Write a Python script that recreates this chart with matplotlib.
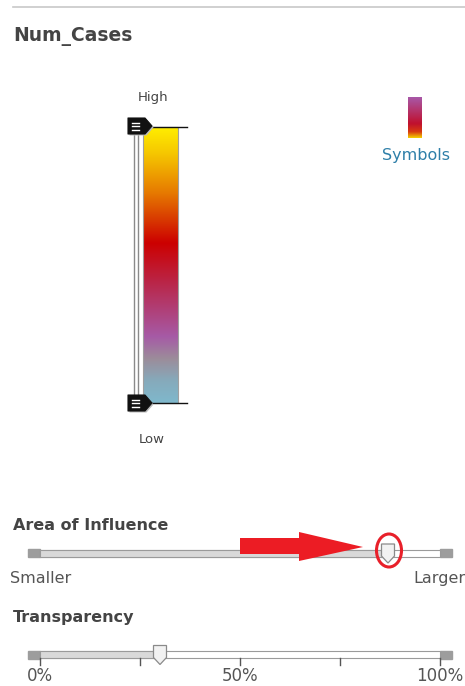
import numpy as np
import matplotlib.pyplot as plt
from matplotlib.colors import LinearSegmentedColormap
from matplotlib.patches import Rectangle, Polygon, Ellipse

# heat map colour ramp, low -> high
ramp_pos = [0.0, 0.08, 0.16, 0.24, 0.42, 0.58, 0.76, 0.90, 1.0]
ramp_colors = ["#7fb8cc", "#86aabb", "#9c8c9a", "#a65aa6", "#b82a50", "#cc0000",
               "#e67800", "#f5c400", "#ffee00"]
# symbol legend ramp, bottom -> top
sym_pos = [0.0, 0.15, 0.35, 1.0]
sym_colors = ["#f5d000", "#d83a10", "#c0102e", "#a858a8"]

influence = 0.87        # slider position, 0..1
transparency = 30       # percent
trans_ticks = [0, 25, 50, 75, 100]
trans_labels = {0: "0%", 50: "50%", 100: "100%"}

TXT = "#444444"
EDGE = "#9a9a9a"

fig = plt.figure(figsize=(4.65, 6.86), dpi=100)
ax = fig.add_axes([0, 0, 1, 1])


def slider(y, frac):
    x0, x1 = 40, 440
    xt = x0 + frac * (x1 - x0)
    ax.add_patch(Rectangle((28, y - 4), 12, 8, color="#9d9d9d", zorder=2))
    ax.add_patch(Rectangle((440, y - 4), 12, 8, color="#9d9d9d", zorder=2))
    ax.add_patch(Rectangle((x0, y - 3.5), x1 - x0, 7, fc="white", ec=EDGE, lw=0.8, zorder=2))
    ax.add_patch(Rectangle((x0, y - 3.5), xt - x0, 7, fc="#d9d9d9", ec=EDGE, lw=0.8, zorder=3))
    thumb = [(xt - 6.5, y - 9), (xt + 6.5, y - 9), (xt + 6.5, y + 3),
             (xt, y + 10), (xt - 6.5, y + 3)]
    ax.add_patch(Polygon(thumb, closed=True, fc="#f2f2f2", ec="#8a8a8a", lw=0.9, zorder=5))
    return xt


# top divider and title
ax.plot([13, 465], [7, 7], color="#c8c8c8", lw=1.2)
ax.text(13, 41, "Num_Cases", fontsize=13.5, fontweight="bold", color=TXT)

# colour ramp
grad = np.linspace(1, 0, 256)[:, None]
cmap = LinearSegmentedColormap.from_list("heat", list(zip(ramp_pos, ramp_colors)))
ax.imshow(grad, cmap=cmap, extent=(143, 178, 403, 127), origin="upper",
          aspect="auto", zorder=2)
ax.add_patch(Rectangle((143, 127), 35, 276, fc="none", ec="#a0a0a0", lw=0.8, zorder=3))
ax.add_patch(Rectangle((133.5, 127), 4.5, 276, fc="white", ec="#8a8a8a", lw=1.0, zorder=2))

for hy in (126, 403):
    ax.plot([150, 187], [hy + 1 if hy == 126 else hy] * 2, color="#111111", lw=1.0, zorder=4)
    tag = [(128, hy - 8), (145, hy - 8), (152, hy), (145, hy + 8), (128, hy + 8)]
    ax.add_patch(Polygon([(p[0] + 1.5, p[1] + 1.5) for p in tag], closed=True,
                         fc="#bbbbbb", ec="none", zorder=4))
    ax.add_patch(Polygon(tag, closed=True, fc="#111111", ec="#111111", lw=0.8,
                         joinstyle="round", zorder=5))
    for dy in (-3.5, 0, 3.5):
        ax.plot([131.5, 139], [hy + dy] * 2, color="white", lw=1.0, zorder=6)

ax.text(153, 101, "High", fontsize=9.5, color=TXT, ha="center")
ax.text(152, 443, "Low", fontsize=9.5, color=TXT, ha="center")

# symbols legend
sgrad = np.linspace(1, 0, 128)[:, None]
scmap = LinearSegmentedColormap.from_list("sym", list(zip(sym_pos, sym_colors)))
ax.imshow(sgrad, cmap=scmap, extent=(408, 422, 138, 97), origin="upper",
          aspect="auto", zorder=2)
ax.text(415.5, 160, "Symbols", fontsize=11.5, color="#2e7fa8", ha="center")

# area of influence
ax.text(13, 530, "Area of Influence", fontsize=11.5, fontweight="bold", color=TXT)
xt = slider(553, influence)
ax.add_patch(Ellipse((xt + 1, 550.5), 25, 33, fc="none", ec="#e8202a", lw=2.2, zorder=7))
ax.add_patch(Polygon([(240, 538), (299, 538), (299, 532), (xt - 25, 547),
                      (299, 561), (299, 554), (240, 554)],
                     closed=True, fc="#ec1c24", ec="none", zorder=6))
ax.text(10, 583, "Smaller", fontsize=11.5, color="#555555")
ax.text(413, 583, "Larger", fontsize=11.5, color="#555555")

# transparency
ax.text(13, 622, "Transparency", fontsize=11.5, fontweight="bold", color=TXT)
slider(654.5, transparency / 100)
for t in trans_ticks:
    tx = 40 + t / 100 * 400
    ax.plot([tx, tx], [658, 665], color="#555555", lw=1.0, zorder=4)
    if t in trans_labels:
        ax.text(tx, 681, trans_labels[t], fontsize=12, color="#555555", ha="center")

ax.set_xlim(0, 465)
ax.set_ylim(686, 0)
ax.axis("off")
fig.savefig("out.png", dpi=100)
